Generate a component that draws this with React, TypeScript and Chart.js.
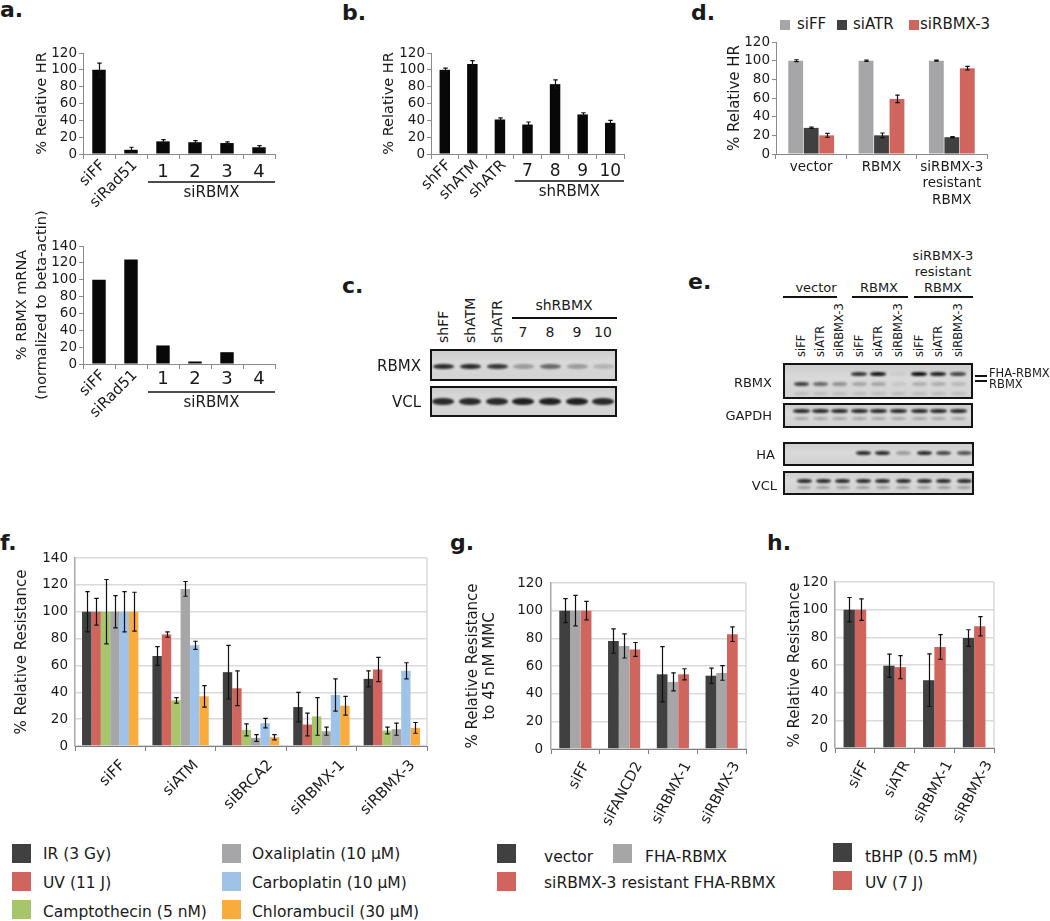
import React, { useEffect, useRef } from 'react';
import { Chart, registerables } from 'chart.js';

Chart.register(...registerables);

const FONT = "'DejaVu Sans', Verdana, sans-serif";
const TXT = '#1a1a1a';
const AX = '#8a8a8a';
Chart.defaults.font.family = FONT;
Chart.defaults.color = TXT;

const DARK = '#404040';
const RED = '#d0655d';
const GRAY = '#a6a6a9';
const GREEN = '#a7c56b';
const BLUE = '#9fc3e8';
const ORANGE = '#f9ab3b';

// ---------------- data ----------------
const aCategories = ['siFF', 'siRad51', '1', '2', '3', '4'];
const aRelativeHR = [100, 5, 15, 14, 13, 8];
const aRelativeHRErr = [8, 3, 2, 2, 1.5, 2];
const aRBMXmRNA = [100, 124, 22, 3, 14, 0];

const bCategories = ['shFF', 'shATM', 'shATR', '7', '8', '9', '10'];
const bRelativeHR = [100, 107, 41, 35, 83, 47, 37];
const bRelativeHRErr = [2, 4, 2, 3, 5, 2, 3];

const dCategories = [['vector'], ['RBMX'], ['siRBMX-3', 'resistant', 'RBMX']];
const dSeriesNames = ['siFF', 'siATR', 'siRBMX-3'];
const dSiFF = [100, 100, 100];
const dSiFFErr = [1, 0.7, 0.5];
const dSiATR = [28, 20, 18];
const dSiATRErr = [0.7, 2.5, 0.7];
const dSiRBMX3 = [20, 59, 92];
const dSiRBMX3Err = [2.2, 4, 1.8];

const fCategories = ['siFF', 'siATM', 'siBRCA2', 'siRBMX-1', 'siRBMX-3'];
const fSeriesNames = ['IR (3 Gy)', 'UV (11 J)', 'Camptothecin (5 nM)', 'Oxaliplatin (10 \u03bcM)', 'Carboplatin (10 \u03bcM)', 'Chlorambucil (30 \u03bcM)'];
const fIR = [100, 67, 55, 29, 50];
const fIRErr = [15, 7, 20, 11, 6];
const fUV = [100, 83, 43, 16, 57];
const fUVErr = [10, 2, 13, 8.5, 9];
const fCampto = [100, 34, 12, 22, 11.5];
const fCamptoErr = [24, 2, 4.5, 14, 2.5];
const fOxali = [100, 117, 6, 11, 12.5];
const fOxaliErr = [12, 5.5, 2.5, 3, 4.5];
const fCarbo = [100, 75, 17, 38, 56];
const fCarboErr = [15, 3, 3.5, 12, 6];
const fChlor = [100, 37, 6.5, 30, 13.5];
const fChlorErr = [14.5, 8, 2, 7, 4];

const gCategories = ['siFF', 'siFANCD2', 'siRBMX-1', 'siRBMX-3'];
const gSeriesNames = ['vector', 'FHA-RBMX', 'siRBMX-3 resistant FHA-RBMX'];
const gVector = [100, 78, 54, 53];
const gVectorErr = [8.7, 8.8, 20, 5.5];
const gFHA = [100, 74.5, 48.5, 55];
const gFHAErr = [11, 8.7, 6.5, 5.3];
const gResistant = [100, 72, 54, 83];
const gResistantErr = [6.7, 5, 4, 5.3];

const hCategories = ['siFF', 'siATR', 'siRBMX-1', 'siRBMX-3'];
const hSeriesNames = ['tBHP (0.5 mM)', 'UV (7 J)'];
const hTBHP = [100, 59.5, 49, 79.5];
const hTBHPErr = [8.8, 8.4, 19, 6];
const hUV = [100, 58.5, 73, 88];
const hUVErr = [7.8, 8.3, 9, 7];

// western blot band intensities (0..1)
const cLaneX = [443, 470, 497, 523, 550, 577, 603];
const cRBMXBands = [0.85, 0.85, 0.8, 0.3, 0.55, 0.3, 0.18];
const cVCLBands = [0.85, 0.85, 0.85, 0.9, 0.9, 0.9, 0.85];
const eLaneX = [801, 820, 839, 859, 878, 898, 919, 938, 958];
const eFHABands = [0, 0, 0, 0.8, 0.95, 0.05, 1, 0.9, 0.72];
const eRBMXBands = [0.75, 0.55, 0.35, 0.25, 0.25, 0.08, 0.2, 0.2, 0.15];
const eGAPDHBands = [0.85, 0.85, 0.85, 0.85, 0.85, 0.85, 0.85, 0.85, 0.85];
const eHABands = [0, 0, 0, 0.85, 0.85, 0.3, 0.85, 0.7, 0.65];
const eVCLBands = [0.85, 0.85, 0.85, 0.85, 0.85, 0.85, 0.85, 0.85, 0.85];
const eLaneLabels = ['siFF', 'siATR', 'siRBMX-3', 'siFF', 'siATR', 'siRBMX-3', 'siFF', 'siATR', 'siRBMX-3'];

// ---------------- plugins ----------------
const errorBars = {
  id: 'errorBars',
  afterDatasetsDraw(chart: any) {
    const ctx = chart.ctx;
    const ys = chart.scales.y;
    chart.data.datasets.forEach((ds: any, i: number) => {
      if (!ds.errors) return;
      const meta = chart.getDatasetMeta(i);
      meta.data.forEach((bar: any, j: number) => {
        const e = ds.errors[j];
        if (!e) return;
        const v = ds.data[j];
        const yt = ys.getPixelForValue(v + e);
        const yb = ys.getPixelForValue(Math.max(0, v - e));
        const x = Math.round(bar.x) + 0.5;
        ctx.save();
        ctx.strokeStyle = '#111';
        ctx.lineWidth = 1.2;
        ctx.beginPath();
        ctx.moveTo(x, yt);
        ctx.lineTo(x, yb);
        ctx.moveTo(x - 2.2, yt);
        ctx.lineTo(x + 2.2, yt);
        ctx.moveTo(x - 2.2, yb);
        ctx.lineTo(x + 2.2, yb);
        ctx.stroke();
        ctx.restore();
      });
    });
  },
};

// mixed labels: first rotCount rotated 45deg, rest horizontal, plus bracket and group name
const catLabels = {
  id: 'catLabels',
  afterDraw(chart: any, _args: any, o: any) {
    if (!o || !o.items) return;
    const xs = chart.scales.x;
    const ctx = chart.ctx;
    const y0 = xs.top;
    ctx.save();
    ctx.fillStyle = TXT;
    o.items.forEach((t: string, i: number) => {
      const px = xs.getPixelForValue(i);
      if (i < o.rotCount) {
        ctx.save();
        ctx.font = `${o.rotSize}px ${FONT}`;
        ctx.translate(px + o.rdx, y0 + o.rdy);
        ctx.rotate(-Math.PI / 4);
        ctx.textAlign = 'right';
        ctx.textBaseline = 'middle';
        ctx.fillText(t, 0, 0);
        ctx.restore();
      } else {
        ctx.font = `${o.numSize}px ${FONT}`;
        ctx.textAlign = 'center';
        ctx.textBaseline = 'middle';
        ctx.fillText(t, px, y0 + o.ndy);
      }
    });
    const step = xs.getPixelForValue(1) - xs.getPixelForValue(0);
    const x1 = xs.getPixelForValue(o.rotCount) - step / 2 + 1;
    const x2 = xs.getPixelForValue(o.items.length - 1) + step / 2;
    ctx.strokeStyle = '#111';
    ctx.lineWidth = 1.6;
    ctx.beginPath();
    ctx.moveTo(x1, y0 + o.ldy);
    ctx.lineTo(x2, y0 + o.ldy);
    ctx.stroke();
    ctx.font = `${o.groupSize}px ${FONT}`;
    ctx.textAlign = 'center';
    ctx.textBaseline = 'middle';
    ctx.fillText(o.group, (x1 + x2) / 2, y0 + o.gdy);
    ctx.restore();
  },
};

// rotated category labels (Excel style)
const rotLabels = {
  id: 'rotLabels',
  afterDraw(chart: any, _args: any, o: any) {
    if (!o || !o.rot) return;
    const xs = chart.scales.x;
    const ctx = chart.ctx;
    const labels = chart.data.labels as string[];
    ctx.save();
    ctx.fillStyle = TXT;
    ctx.font = `${o.size}px ${FONT}`;
    ctx.textAlign = 'right';
    ctx.textBaseline = 'middle';
    labels.forEach((t, i) => {
      const w = ctx.measureText(t).width;
      const px = xs.getPixelForValue(i);
      ctx.save();
      ctx.translate(px + o.dx + o.k * w, xs.top + o.dy);
      ctx.rotate(-o.rot * Math.PI / 180);
      ctx.fillText(t, 0, 0);
      ctx.restore();
    });
    ctx.restore();
  },
};

const plotFrame = {
  id: 'plotFrame',
  beforeDatasetsDraw(chart: any) {
    const { right, top, bottom } = chart.chartArea;
    const ctx = chart.ctx;
    ctx.save();
    ctx.strokeStyle = '#d9d9d9';
    ctx.lineWidth = 1.5;
    ctx.beginPath();
    ctx.moveTo(right, top);
    ctx.lineTo(right, bottom);
    ctx.stroke();
    ctx.restore();
  },
};

// ---------------- option helpers ----------------
function baseOpts(pad: any, extraPlugins: any = {}) {
  return {
    responsive: false,
    maintainAspectRatio: false,
    animation: false,
    events: [],
    layout: { padding: pad },
    plugins: { legend: { display: false }, tooltip: { enabled: false }, ...extraPlugins },
  };
}

function xSimple(height: number) {
  return {
    grid: { display: true, drawOnChartArea: false, drawTicks: true, tickLength: 5, color: AX, offset: true },
    border: { color: AX, width: 1 },
    ticks: { display: false },
    afterFit: (s: any) => { s.height = height; },
  };
}

function ySimple(max: number, width: number, title: any, titleCenter: number, size: number, lh: number) {
  return {
    min: 0,
    max,
    ticks: { stepSize: 20, autoSkip: false, font: { size: 13.5 }, color: TXT, padding: 2 },
    grid: { drawOnChartArea: false, drawTicks: true, tickLength: 4, color: AX },
    border: { color: AX, width: 1 },
    title: {
      display: true, text: title, color: TXT,
      font: { size, lineHeight: lh },
      padding: { top: titleCenter - (size * lh) / 2, bottom: 0 },
    },
    afterFit: (s: any) => { s.width = width; },
  };
}

function xRot(height: number) {
  return {
    grid: { display: true, drawOnChartArea: false, drawTicks: true, tickLength: 5, color: '#7f7f7f', offset: true },
    border: { color: '#7f7f7f', width: 1 },
    ticks: { display: false },
    afterFit: (s: any) => { s.height = height; },
  };
}

function yGrid(max: number, width: number, title: any, titleCenter: number, lh: number, tickPad: number) {
  return {
    min: 0,
    max,
    ticks: { stepSize: 20, autoSkip: false, font: { size: 13.5 }, color: TXT, padding: tickPad },
    grid: { color: '#dadada', lineWidth: 1.5, drawTicks: false },
    border: { color: '#a8a8a8', width: 1.5 },
    title: {
      display: true, text: title, color: TXT,
      font: { size: 15, lineHeight: lh },
      padding: { top: titleCenter - (15 * lh) / 2, bottom: 0 },
    },
    afterFit: (s: any) => { s.width = width; },
  };
}

// ---------------- chart configs ----------------
const makeATop = () => ({
  type: 'bar',
  data: {
    labels: aCategories,
    datasets: [{ data: aRelativeHR, errors: aRelativeHRErr, backgroundColor: '#080808', barPercentage: 0.42, categoryPercentage: 1 }],
  },
  options: {
    ...baseOpts({ top: 23, right: 15, left: 0, bottom: 0 }, {
      catLabels: { items: aCategories, rotCount: 2, rdx: 4, rdy: 9, rotSize: 15, numSize: 18, ndy: 18, ldy: 28, gdy: 39, group: 'siRBMX', groupSize: 15 },
    }),
    scales: { x: xSimple(71), y: ySimple(120, 83, '% Relative HR', 42, 14.5, 1.2) },
  },
  plugins: [errorBars, catLabels],
});

const makeABottom = () => ({
  type: 'bar',
  data: {
    labels: aCategories,
    datasets: [{ data: aRBMXmRNA, backgroundColor: '#080808', barPercentage: 0.42, categoryPercentage: 1 }],
  },
  options: {
    ...baseOpts({ top: 51, right: 15, left: 0, bottom: 0 }, {
      catLabels: { items: aCategories, rotCount: 2, rdx: 4, rdy: 9, rotSize: 15, numSize: 18, ndy: 15, ldy: 28, gdy: 39, group: 'siRBMX', groupSize: 15 },
    }),
    scales: { x: xSimple(71), y: ySimple(140, 83, ['% RBMX mRNA', '(normalized to beta-actin)'], 22, 14.5, 1.38) },
  },
  plugins: [catLabels],
});

const makeB = () => ({
  type: 'bar',
  data: {
    labels: bCategories,
    datasets: [{ data: bRelativeHR, errors: bRelativeHRErr, backgroundColor: '#080808', barPercentage: 0.38, categoryPercentage: 1 }],
  },
  options: {
    ...baseOpts({ top: 23, right: 6, left: 0, bottom: 0 }, {
      catLabels: { items: bCategories, rotCount: 3, rdx: 4, rdy: 9, rotSize: 15, numSize: 17, ndy: 18, ldy: 27, gdy: 38, group: 'shRBMX', groupSize: 15 },
    }),
    scales: { x: xSimple(71), y: ySimple(120, 131, '% Relative HR', 89, 14.5, 1.2) },
  },
  plugins: [errorBars, catLabels],
});

const makeD = () => ({
  type: 'bar',
  data: {
    labels: dCategories,
    datasets: [
      { label: dSeriesNames[0], data: dSiFF, errors: dSiFFErr, backgroundColor: GRAY, barPercentage: 0.96, categoryPercentage: 0.66 },
      { label: dSeriesNames[1], data: dSiATR, errors: dSiATRErr, backgroundColor: DARK, barPercentage: 0.96, categoryPercentage: 0.66 },
      { label: dSeriesNames[2], data: dSiRBMX3, errors: dSiRBMX3Err, backgroundColor: RED, barPercentage: 0.96, categoryPercentage: 0.66 },
    ],
  },
  options: {
    ...baseOpts({ top: 12, right: 23, left: 0, bottom: 0 }),
    scales: {
      x: {
        grid: { display: true, drawOnChartArea: false, drawTicks: true, tickLength: 5, color: AX, offset: true },
        border: { color: AX, width: 1 },
        ticks: { font: { size: 13.5, lineHeight: 1.22 }, color: TXT, padding: 0, maxRotation: 0, autoSkip: false },
        afterFit: (s: any) => { s.height = 76; },
      },
      y: ySimple(120, 96, '% Relative HR', 55, 15, 1.2),
    },
  },
  plugins: [errorBars],
});

const makeF = () => {
  const series = [fIR, fUV, fCampto, fOxali, fCarbo, fChlor];
  const errs = [fIRErr, fUVErr, fCamptoErr, fOxaliErr, fCarboErr, fChlorErr];
  const colors = [DARK, RED, GREEN, GRAY, BLUE, ORANGE];
  return {
    type: 'bar',
    data: {
      labels: fCategories,
      datasets: series.map((d, i) => ({ label: fSeriesNames[i], data: d, errors: errs[i], backgroundColor: colors[i], barPercentage: 1, categoryPercentage: 0.8 })),
    },
    options: {
      ...baseOpts({ top: 38, right: 13, left: 0, bottom: 0 }, { rotLabels: { rot: 45, size: 15, dx: 7, k: 0.2, dy: 17 } }),
      scales: { x: xRot(74), y: yGrid(140, 75, '% Relative Resistance', 22, 1.2, 7) },
    },
    plugins: [plotFrame, errorBars, rotLabels],
  };
};

const makeG = () => {
  const series = [gVector, gFHA, gResistant];
  const errs = [gVectorErr, gFHAErr, gResistantErr];
  const colors = [DARK, GRAY, RED];
  return {
    type: 'bar',
    data: {
      labels: gCategories,
      datasets: series.map((d, i) => ({ label: gSeriesNames[i], data: d, errors: errs[i], backgroundColor: colors[i], barPercentage: 1, categoryPercentage: 0.66 })),
    },
    options: {
      ...baseOpts({ top: 63, right: 14, left: 0, bottom: 0 }, { rotLabels: { rot: 62, size: 14.5, dx: 8, k: 0.1, dy: 14 } }),
      scales: { x: xRot(91), y: yGrid(120, 111, ['% Relative Resistance', 'to 45 nM MMC'], 33, 1.13, 8) },
    },
    plugins: [plotFrame, errorBars, rotLabels],
  };
};

const makeH = () => {
  const series = [hTBHP, hUV];
  const errs = [hTBHPErr, hUVErr];
  const colors = [DARK, RED];
  return {
    type: 'bar',
    data: {
      labels: hCategories,
      datasets: series.map((d, i) => ({ label: hSeriesNames[i], data: d, errors: errs[i], backgroundColor: colors[i], barPercentage: 1, categoryPercentage: 0.57 })),
    },
    options: {
      ...baseOpts({ top: 62, right: 46, left: 0, bottom: 0 }, { rotLabels: { rot: 62, size: 14.5, dx: 8, k: 0.1, dy: 14 } }),
      scales: { x: xRot(92), y: yGrid(120, 65, '% Relative Resistance', 25, 1.2, 7) },
    },
    plugins: [plotFrame, errorBars, rotLabels],
  };
};

// ---------------- components ----------------
function ChartCanvas({ x, y, w, h, make }: { x: number; y: number; w: number; h: number; make: () => any }) {
  const ref = useRef<HTMLCanvasElement>(null);
  useEffect(() => {
    const chart = new Chart(ref.current as HTMLCanvasElement, make());
    return () => chart.destroy();
  }, []);
  return <canvas ref={ref} width={w} height={h} style={{ position: 'absolute', left: x, top: y, width: w, height: h }} />;
}

function T({ x, base, size, children, bold = false, align = 'left' }: any) {
  const lh = Math.round(size * 1.3);
  const top = base - lh / 2 - 0.346 * size;
  const style: any = {
    position: 'absolute', top, fontSize: size, lineHeight: lh + 'px', fontFamily: FONT,
    fontWeight: bold ? 'bold' : 'normal', color: TXT, whiteSpace: 'nowrap',
  };
  if (align === 'left') style.left = x;
  else if (align === 'right') { style.left = x - 400; style.width = 400; style.textAlign = 'right'; }
  else { style.left = x - 200; style.width = 400; style.textAlign = 'center'; }
  return <div style={style}>{children}</div>;
}

function VText({ cx, bottom, size, children }: any) {
  const lh = size * 1.2;
  return (
    <div style={{
      position: 'absolute', left: cx - lh / 2, top: bottom, transform: 'rotate(-90deg)', transformOrigin: '0 0',
      fontSize: size, lineHeight: lh + 'px', whiteSpace: 'nowrap', fontFamily: FONT, color: TXT,
    }}>{children}</div>
  );
}

function Rect({ x, y, w, h, color }: any) {
  return <div style={{ position: 'absolute', left: x, top: y, width: w, height: h, background: color }} />;
}

function Blot({ x, y, w, h, lanes, rows }: { x: number; y: number; w: number; h: number; lanes: number[]; rows: { y: number; vals: number[]; bw: number; bh: number }[] }) {
  return (
    <div style={{
      position: 'absolute', left: x, top: y, width: w, height: h, boxSizing: 'border-box',
      border: '2px solid #141414', background: 'linear-gradient(#cdcdcd, #d9d9d9 40%, #d2d2d2)', overflow: 'hidden',
    }}>
      {rows.map((r, ri) => r.vals.map((a, li) => a > 0 ? (
        <div key={ri + '-' + li} style={{
          position: 'absolute', left: lanes[li] - x - 2 - r.bw / 2, top: r.y - y - 2 - r.bh / 2, width: r.bw, height: r.bh,
          background: `rgba(12,12,12,${a})`, borderRadius: '45%', filter: 'blur(0.8px)',
        }} />
      ) : null))}
    </div>
  );
}

function LegendItem({ sx, sy, size, color, tx, base, text, font }: any) {
  return (
    <>
      <Rect x={sx} y={sy} w={size} h={size} color={color} />
      <T x={tx} base={base} size={font}>{text}</T>
    </>
  );
}

export default function App() {
  const fColors = [DARK, RED, GREEN, GRAY, BLUE, ORANGE];
  const gColors = [DARK, GRAY, RED];
  const hColors = [DARK, RED];
  const dColors = [GRAY, DARK, RED];
  return (
    <div style={{ position: 'absolute', left: 0, top: 0, width: 1050, height: 921, overflow: 'hidden', background: '#fff', fontFamily: FONT }}>
      {/* panel letters */}
      <T x={0} base={17} size={22} bold>a.</T>
      <T x={342} base={20} size={22} bold>b.</T>
      <T x={342} base={293} size={22} bold>c.</T>
      <T x={691} base={20} size={22} bold>d.</T>
      <T x={688} base={289} size={22} bold>e.</T>
      <T x={0} base={550} size={22} bold>f.</T>
      <T x={450} base={550} size={22} bold>g.</T>
      <T x={767} base={550} size={22} bold>h.</T>

      {/* a */}
      <ChartCanvas x={0} y={30} w={290} h={195} make={makeATop} />
      <ChartCanvas x={0} y={195} w={290} h={240} make={makeABottom} />

      {/* b */}
      <ChartCanvas x={300} y={30} w={330} h={195} make={makeB} />

      {/* c blot */}
      <VText cx={cLaneX[0]} bottom={343} size={14}>{bCategories[0]}</VText>
      <VText cx={cLaneX[1]} bottom={343} size={14}>{bCategories[1]}</VText>
      <VText cx={cLaneX[2]} bottom={343} size={14}>{bCategories[2]}</VText>
      {cLaneX.slice(3).map((lx, i) => (
        <T key={i} x={lx} base={337} size={14} align="center">{bCategories[3 + i]}</T>
      ))}
      <Rect x={512} y={317} w={105} h={2} color="#111" />
      <T x={564} base={310} size={14} align="center">shRBMX</T>
      <T x={421} base={371} size={15} align="right">RBMX</T>
      <T x={421} base={407} size={15} align="right">VCL</T>
      <Blot x={430} y={349} w={187} h={32} lanes={cLaneX} rows={[{ y: 366, vals: cRBMXBands, bw: 21, bh: 5 }]} />
      <Blot x={430} y={386} w={187} h={31} lanes={cLaneX} rows={[{ y: 401, vals: cVCLBands, bw: 22, bh: 7 }]} />

      {/* d */}
      {dSeriesNames.map((n, i) => (
        <LegendItem key={n} sx={[780, 837, 909][i]} sy={20} size={10} color={dColors[i]} tx={[797, 853, 920][i]} base={29} text={n} font={15} />
      ))}
      <ChartCanvas x={680} y={30} w={330} h={200} make={makeD} />

      {/* e blot */}
      <T x={943} base={260} size={13} align="center">siRBMX-3</T>
      <T x={943} base={276} size={13} align="center">resistant</T>
      <T x={943} base={292} size={13} align="center">RBMX</T>
      <T x={816} base={292} size={13} align="center">vector</T>
      <T x={879} base={292} size={13} align="center">RBMX</T>
      <Rect x={783} y={296} w={54} h={2} color="#111" />
      <Rect x={852} y={296} w={56} h={2} color="#111" />
      <Rect x={914} y={296} w={59} h={2} color="#111" />
      {eLaneLabels.map((l, i) => (
        <VText key={i} cx={eLaneX[i] + 1} bottom={357} size={11.5}>{l}</VText>
      ))}
      <T x={772} base={387} size={13} align="right">RBMX</T>
      <T x={772} base={420} size={13} align="right">GAPDH</T>
      <T x={775} base={459} size={13} align="right">HA</T>
      <T x={777} base={490} size={13} align="right">VCL</T>
      <Blot x={783} y={363} w={190} h={36} lanes={eLaneX} rows={[
        { y: 374, vals: eFHABands, bw: 16, bh: 4 },
        { y: 384, vals: eRBMXBands, bw: 15, bh: 4 },
        { y: 393, vals: eRBMXBands.map(() => 0.12), bw: 15, bh: 3 },
      ]} />
      <Blot x={783} y={403} w={190} h={25} lanes={eLaneX} rows={[
        { y: 411, vals: eGAPDHBands, bw: 17, bh: 4 },
        { y: 418, vals: eGAPDHBands.map(() => 0.25), bw: 15, bh: 3 },
      ]} />
      <Blot x={783} y={442} w={191} h={24} lanes={eLaneX.map((v, i) => v + 3 + i * 0.4)} rows={[{ y: 453, vals: eHABands, bw: 15, bh: 4 }]} />
      <Blot x={783} y={471} w={191} h={24} lanes={eLaneX.map((v, i) => v + 3 + i * 0.4)} rows={[
        { y: 481, vals: eVCLBands, bw: 15, bh: 4 },
        { y: 487, vals: eVCLBands.map(() => 0.3), bw: 14, bh: 3 },
      ]} />
      <Rect x={975} y={375} w={12} h={1.5} color="#111" />
      <Rect x={975} y={380} w={12} h={1.5} color="#111" />
      <T x={989} base={377} size={11.5}>FHA-RBMX</T>
      <T x={989} base={388} size={11.5}>RBMX</T>

      {/* f, g, h */}
      <ChartCanvas x={0} y={520} w={440} h={300} make={makeF} />
      <ChartCanvas x={440} y={520} w={320} h={320} make={makeG} />
      <ChartCanvas x={770} y={520} w={270} h={320} make={makeH} />

      {/* f legend */}
      {fSeriesNames.map((n, i) => {
        const col = Math.floor(i / 3);
        const row = i % 3;
        return (
          <LegendItem key={n} sx={col ? 222 : 12} sy={[844, 872, 900][row]} size={19} color={fColors[i]}
            tx={col ? 252 : 43} base={[859, 888, 917][row]} text={n} font={15.5} />
        );
      })}
      {/* g legend */}
      <LegendItem sx={497} sy={844} size={19} color={gColors[0]} tx={544} base={862} text={gSeriesNames[0]} font={15.5} />
      <LegendItem sx={613} sy={844} size={19} color={gColors[1]} tx={645} base={862} text={gSeriesNames[1]} font={15.5} />
      <LegendItem sx={497} sy={872} size={19} color={gColors[2]} tx={544} base={888} text={gSeriesNames[2]} font={15.5} />
      {/* h legend */}
      <LegendItem sx={833} sy={843} size={19} color={hColors[0]} tx={865} base={862} text={hSeriesNames[0]} font={15.5} />
      <LegendItem sx={833} sy={871} size={19} color={hColors[1]} tx={865} base={888} text={hSeriesNames[1]} font={15.5} />
    </div>
  );
}
